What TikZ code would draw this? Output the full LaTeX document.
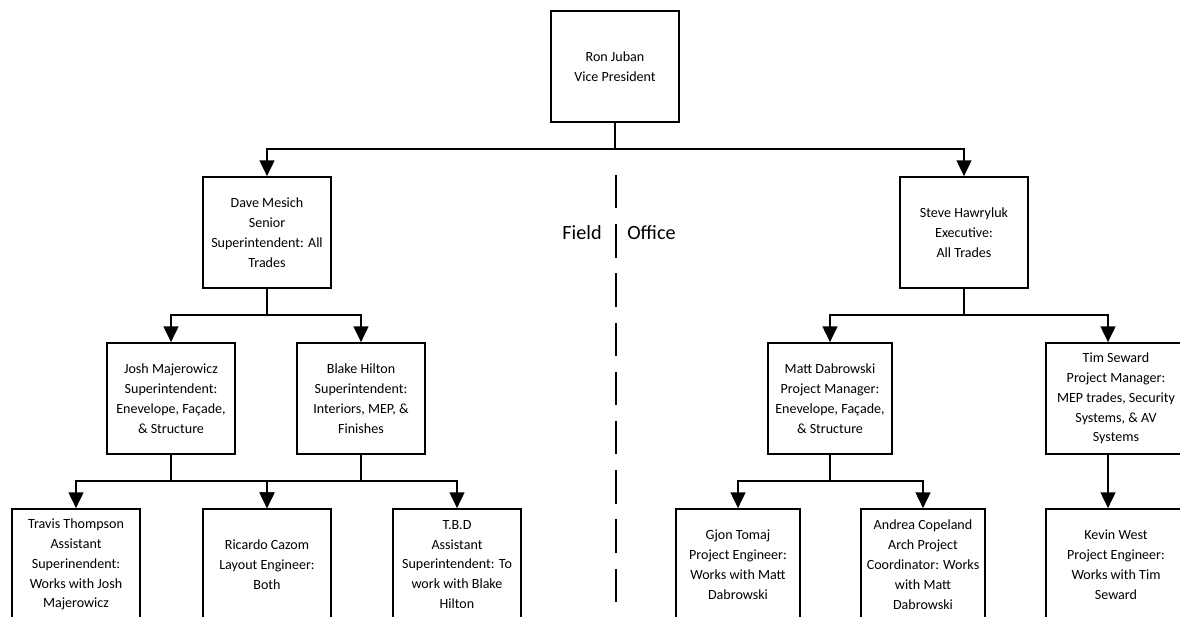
\documentclass[tikz,border=0pt]{standalone}
\usepackage{fontspec}
\setmainfont{Carlito}
\usetikzlibrary{arrows.meta, positioning, calc}

\begin{document}
\begin{tikzpicture}[
  x=0.02cm, y=-0.02cm,
  every node/.style={font=\fontsize{8}{11.3}\selectfont},
  person/.style={rectangle, draw=black, line width=1pt, minimum width=2.56cm, minimum height=2.22cm, align=center, inner sep=2pt},
  office/.style={person, minimum width=2.48cm},
  side/.style={font=\fontsize{11.5}{14}\selectfont, inner sep=0pt},
  arrow/.style={-{Triangle[width=8.5pt,length=9pt]}, line width=0.9pt},
  divider/.style={line width=0.8pt, dash pattern=on 19pt off 9pt}
]
\useasboundingbox (0,0) rectangle (1180,617);
\clip (0,0) rectangle (1180,617);

% Nodes
\node[person] (ron) at (615,66.5) {Ron Juban\\Vice President};

\node[person] (dave) at (267,232.5) {Dave Mesich\\Senior\\Superintendent: All\\Trades};
\node[person] (josh) at (171,398.5) {Josh Majerowicz\\Superintendent:\\Enevelope, Façade,\\\& Structure};
\node[person] (blake) at (361,398.5) {Blake Hilton\\Superintendent:\\Interiors, MEP, \&\\Finishes};
\node[person] (travis) at (76,564.5) {Travis Thompson\\Assistant\\Superinendent:\\Works with Josh\\Majerowicz};
\node[person] (ricardo) at (267,564.5) {Ricardo Cazom\\Layout Engineer:\\Both};
\node[person] (tbd) at (457,564.5) {T.B.D\\Assistant\\Superintendent: To\\work with Blake\\Hilton};

\node[person] (steve) at (964,232.5) {Steve Hawryluk\\Executive:\\All Trades};
\node[office] (matt) at (830,398.5) {Matt Dabrowski\\Project Manager:\\Enevelope, Façade,\\\& Structure};
\node[person, minimum width=2.8cm] (tim) at (1116,398.5) {Tim Seward\\Project Manager:\\MEP trades, Security\\Systems, \& AV\\Systems};
\node[office] (gjon) at (738,564.5) {Gjon Tomaj\\Project Engineer:\\Works with Matt\\Dabrowski};
\node[office] (andrea) at (923,564.5) {Andrea Copeland\\Arch Project\\Coordinator: Works\\with Matt\\Dabrowski};
\node[person, minimum width=2.8cm] (kevin) at (1116,564.5) {Kevin West\\Project Engineer:\\Works with Tim\\Seward};

% Arrows
\draw[arrow] (ron.south) -- ++(0,26) -| (dave.north);
\draw[arrow] (ron.south) -- ++(0,26) -| (steve.north);
\draw[arrow] (dave.south) -- ++(0,26) -| (josh.north);
\draw[arrow] (dave.south) -- ++(0,26) -| (blake.north);
\draw[arrow] (josh.south) -- ++(0,26) -| (travis.north);
\draw[arrow] (josh.south) -- ++(0,26) -| (ricardo.north);
\draw[arrow] (blake.south) -- ++(0,26) -| (ricardo.north);
\draw[arrow] (blake.south) -- ++(0,26) -| (tbd.north);
\draw[arrow] (steve.south) -- ++(0,26) -| (matt.north);
\draw[arrow] (steve.south) -- ++(0,26) -| ([xshift=-0.16cm]tim.north);
\draw[arrow] (matt.south) -- ++(0,26) -| (gjon.north);
\draw[arrow] (matt.south) -- ++(0,26) -| (andrea.north);
\draw[arrow] ([xshift=-0.16cm]tim.south) -- ([xshift=-0.16cm]kevin.north);

% Labels
\coordinate (divtop) at (616,175);
\coordinate (divbot) at (616,617);
\draw[divider] (divtop) -- (divbot);
\node[side, anchor=east] (field) at (602,233) {Field};
\node[side, anchor=west] (office) at (627,233) {Office};

\end{tikzpicture}
\end{document}
